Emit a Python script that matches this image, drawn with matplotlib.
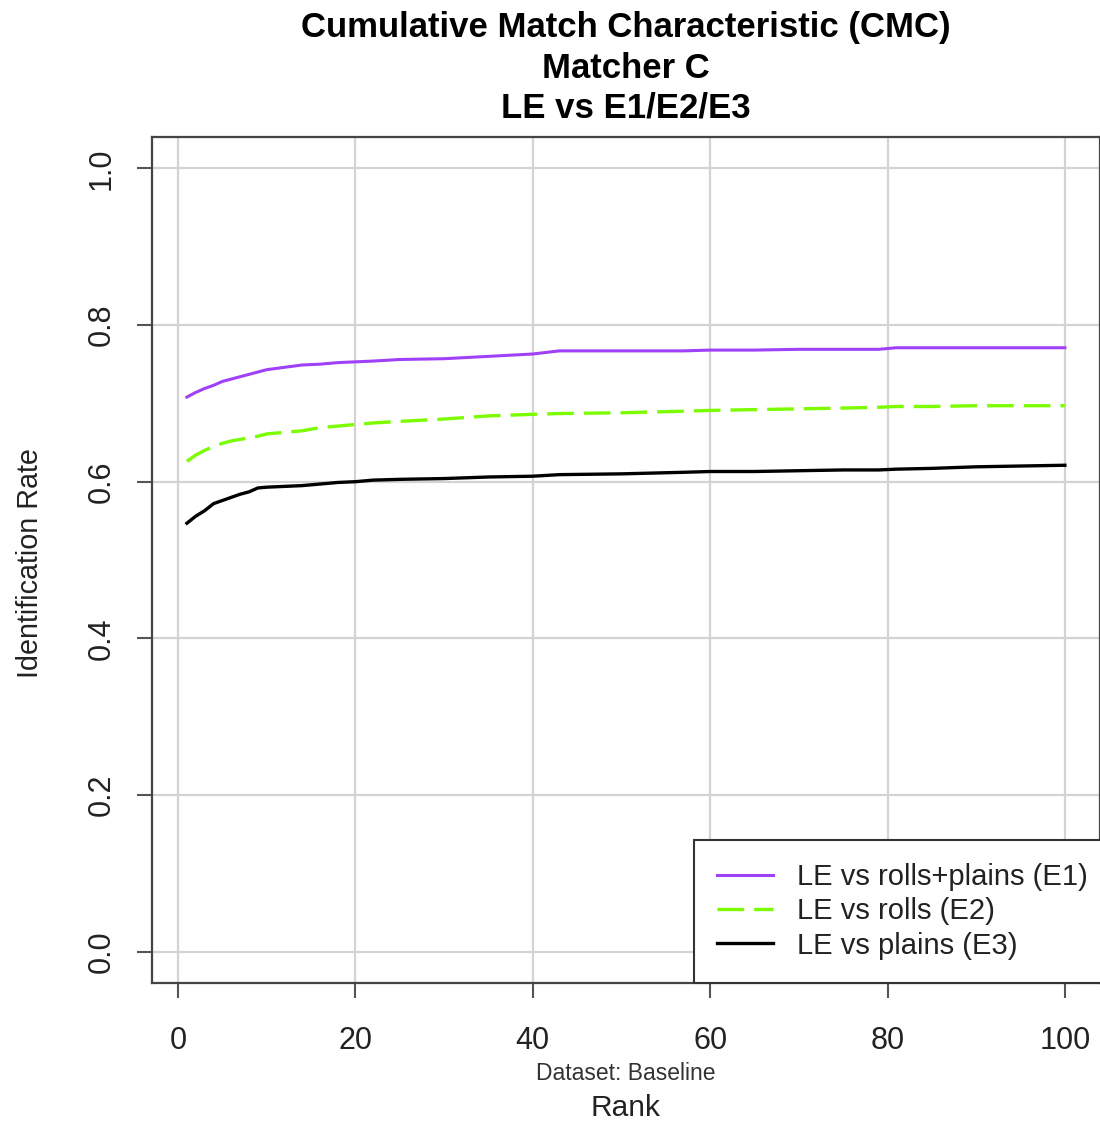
import numpy as np
import matplotlib
matplotlib.use("Agg")
import matplotlib.pyplot as plt

plt.rcParams['font.family'] = ['Liberation Sans', 'DejaVu Sans']

ranks = [1, 2, 3, 4, 5, 6, 7, 8, 9, 10, 12, 14, 16, 18, 20, 22, 25, 30, 35,
         40, 43, 50, 57, 60, 65, 70, 75, 79, 81, 85, 90, 95, 100]

e1_rate = [0.708, 0.714, 0.719, 0.723, 0.728, 0.731, 0.734, 0.737, 0.740, 0.743,
           0.746, 0.749, 0.750, 0.752, 0.753, 0.754, 0.756, 0.757, 0.760, 0.763,
           0.767, 0.767, 0.767, 0.768, 0.768, 0.769, 0.769, 0.769, 0.771, 0.771,
           0.771, 0.771, 0.771]
e2_rate = [0.626, 0.634, 0.640, 0.645, 0.649, 0.652, 0.654, 0.656, 0.658, 0.661,
           0.663, 0.665, 0.669, 0.671, 0.673, 0.675, 0.677, 0.680, 0.684, 0.686,
           0.687, 0.688, 0.690, 0.691, 0.692, 0.693, 0.694, 0.695, 0.696, 0.696,
           0.697, 0.697, 0.697]
e3_rate = [0.547, 0.556, 0.563, 0.572, 0.576, 0.580, 0.584, 0.587, 0.592, 0.593,
           0.594, 0.595, 0.597, 0.599, 0.600, 0.602, 0.603, 0.604, 0.606, 0.607,
           0.609, 0.610, 0.612, 0.613, 0.613, 0.614, 0.615, 0.615, 0.616, 0.617,
           0.619, 0.620, 0.621]

labels = ['LE vs rolls+plains (E1)', 'LE vs rolls (E2)', 'LE vs plains (E3)']
x_ticks = [0, 20, 40, 60, 80, 100]
y_ticks = [0.0, 0.2, 0.4, 0.6, 0.8, 1.0]

fig = plt.figure(figsize=(11, 11.25), dpi=100)
ax = fig.add_axes([0.138, 0.1262, 0.862, 0.752])

# R-style axis ranges (4% padding)
ax.set_xlim(1 - 0.04 * 99, 100 + 0.04 * 99)
ax.set_ylim(-0.04, 1.04)

ax.grid(True, color='#d3d3d3', linewidth=1.6)
ax.set_axisbelow(True)

ax.plot(ranks, e1_rate, color='#A040F8', lw=2.2, label=labels[0])
ax.plot(ranks, e2_rate, color='#7CFC00', lw=2.4, linestyle=(0, (8, 3)), label=labels[1])
ax.plot(ranks, e3_rate, color='black', lw=2.4, label=labels[2])

ax.set_xticks(x_ticks)
ax.set_yticks(y_ticks)
ax.set_yticklabels(['%.1f' % v for v in y_ticks], rotation=90, va='center')
ax.tick_params(axis='both', direction='out', length=11, width=1.5,
               color='#555555', labelsize=22, labelcolor='#222222')
ax.tick_params(axis='x', pad=20)
ax.tick_params(axis='y', pad=14)

for side in ['left', 'bottom', 'top', 'right']:
    ax.spines[side].set_color('#444444')
    ax.spines[side].set_linewidth(1.6)

leg = ax.legend(loc='lower right', bbox_to_anchor=(1.012, 0), borderaxespad=0,
                fontsize=21, handlelength=1.9, handletextpad=0.85,
                labelspacing=0.22, borderpad=0.8, fancybox=False, framealpha=1)
leg.get_frame().set_edgecolor('#333333')
leg.get_frame().set_linewidth(1.5)
for t in leg.get_texts():
    t.set_color('#222222')

# three-line title
fig.text(0.569, 1 - 27 / 1125, 'Cumulative Match Characteristic (CMC)',
         ha='center', va='center', fontsize=25, fontweight='bold')
fig.text(0.569, 1 - 68 / 1125, 'Matcher C',
         ha='center', va='center', fontsize=25, fontweight='bold')
fig.text(0.569, 1 - 108 / 1125, 'LE vs E1/E2/E3',
         ha='center', va='center', fontsize=25, fontweight='bold')

fig.text(0.569, 1 - 1073 / 1125, 'Dataset: Baseline',
         ha='center', va='center', fontsize=16.5, color='#333333')
fig.text(0.569, 1 - 1108 / 1125, 'Rank',
         ha='center', va='center', fontsize=21.5, color='#222222')
fig.text(30 / 1100, 1 - 563 / 1125, 'Identification Rate', rotation=90,
         ha='center', va='center', fontsize=20.7, color='#222222')

fig.savefig('out.png', dpi=100)
